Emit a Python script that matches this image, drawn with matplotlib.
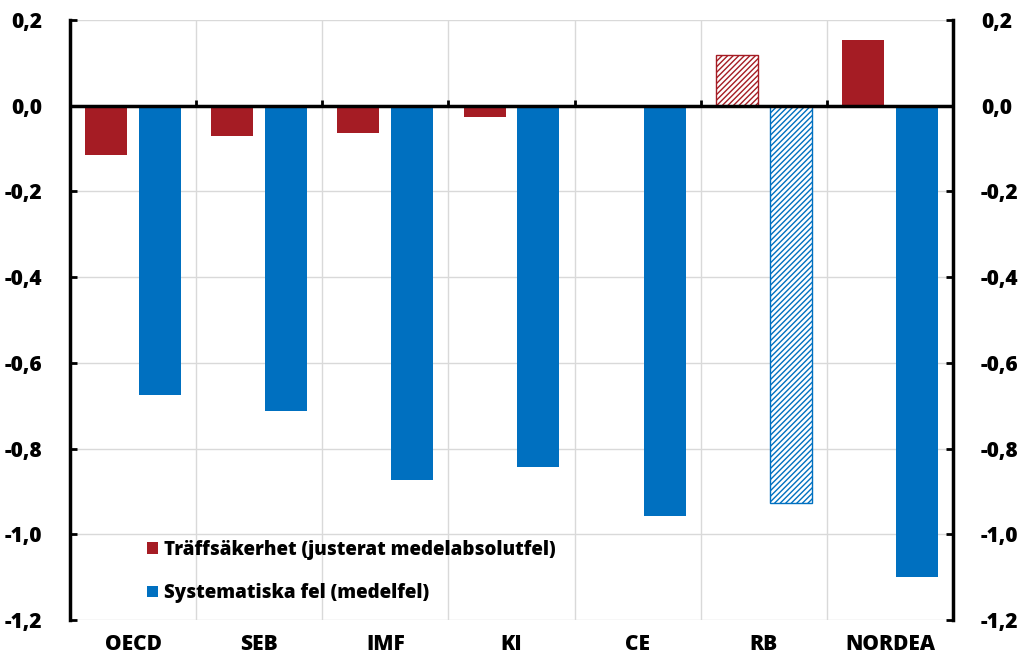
import matplotlib
matplotlib.use("Agg")
import matplotlib.pyplot as plt
import numpy as np

categories = ["OECD", "SEB", "IMF", "KI", "CE", "RB", "NORDEA"]
accuracy = [-0.114, -0.070, -0.063, -0.026, 0.0, 0.118, 0.153]
bias = [-0.674, -0.712, -0.873, -0.842, -0.957, -0.927, -1.099]
hatched = [False, False, False, False, False, True, False]
yticks = [0.2, 0.0, -0.2, -0.4, -0.6, -0.8, -1.0, -1.2]
labels = ["Träffsäkerhet (justerat medelabsolutfel)", "Systematiska fel (medelfel)"]

RED = "#A51C24"
BLUE = "#0070C0"

plt.rcParams['font.family'] = ['Open Sans', 'DejaVu Sans']
plt.rcParams['font.weight'] = 'bold'
plt.rcParams['hatch.linewidth'] = 1.0

fig = plt.figure(figsize=(10.24, 6.7), dpi=100)
ax = fig.add_axes([70/1024, 1-620/670, 883/1024, 600/670])

x = np.arange(len(categories))
off = 0.214
w = 0.333
for i in range(len(categories)):
    if hatched[i]:
        ax.bar(x[i]-off, accuracy[i], w, facecolor="white", edgecolor=RED, hatch="//////", lw=1.0, zorder=3)
        ax.bar(x[i]+off, bias[i], w, facecolor="white", edgecolor=BLUE, hatch="//////", lw=1.0, zorder=3)
    else:
        ax.bar(x[i]-off, accuracy[i], w, color=RED, zorder=3, label=labels[0] if i == 0 else None)
        ax.bar(x[i]+off, bias[i], w, color=BLUE, zorder=3, label=labels[1] if i == 0 else None)

ax.set_xlim(-0.5, len(categories)-0.5)
ax.set_ylim(-1.2, 0.2)
ax.set_yticks(yticks)
ax.set_yticklabels([f"{v:.1f}".replace(".", ",").replace("-0,0", "0,0") for v in yticks], fontsize=15, fontweight='heavy')
ax.set_xticks(x)
ax.set_xticklabels(categories, fontsize=15, fontweight='heavy')
ax.tick_params(axis='x', length=0, pad=10)
ax.tick_params(axis='y', direction='in', length=5, width=2, left=True, right=True, labelleft=True, labelright=True, pad=20)

bounds = np.arange(0.5, len(categories)-0.5, 1.0)
ax.set_xticks(bounds, minor=True)
ax.tick_params(axis='x', which='minor', length=0)
ax.grid(axis='x', which='minor', color='#D9D9D9', lw=1, zorder=0)
ax.grid(axis='y', which='major', color='#D9D9D9', lw=1, zorder=0)

ax.axhline(0, color='black', lw=2.5, zorder=4)
ax.vlines(bounds, 0, 0.014, color='black', lw=2, zorder=4)

for s in ['top', 'bottom']:
    ax.spines[s].set_visible(False)
for s in ['left', 'right']:
    ax.spines[s].set_linewidth(2.5)
    ax.spines[s].set_color('black')

leg = ax.legend(loc='lower left', bbox_to_anchor=(0.068, 0.0), frameon=False,
                handlelength=0.6, handleheight=0.6, handletextpad=0.3,
                labelspacing=1.25, prop={'size': 13.5, 'weight': 'heavy'})

fig.savefig("out.png", dpi=100)
